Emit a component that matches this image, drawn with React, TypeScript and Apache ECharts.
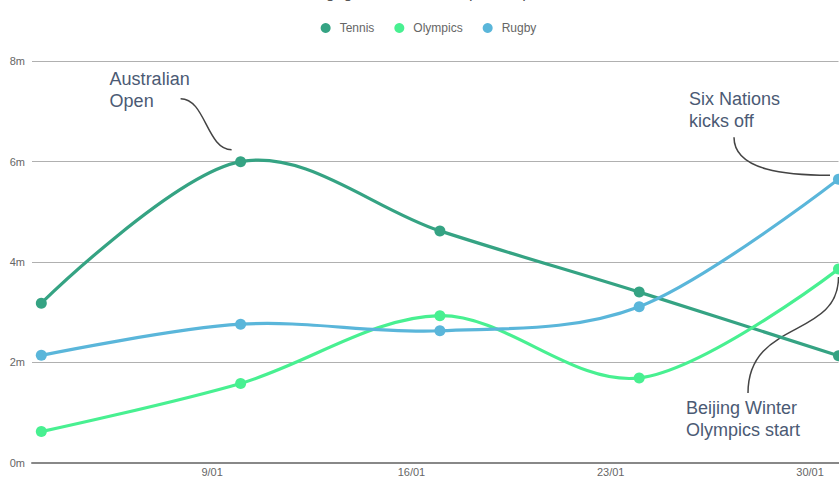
import React, { useEffect, useRef } from "react";
import * as echarts from "echarts";

const titleText = "Engagement with UK sports topics";
const dayOfJanuary = [3, 10, 17, 24, 31];
const tickDays = [9, 16, 23, 30];
const seriesNames = ["Tennis", "Olympics", "Rugby"];
const tennis = [3.18, 6.0, 4.62, 3.4, 2.13];
const olympics = [0.62, 1.58, 2.93, 1.69, 3.86];
const rugby = [2.14, 2.76, 2.63, 3.11, 5.65];
const yTicks = [0, 2, 4, 6, 8];
const colors = ["#35a383", "#48f091", "#5ab6da"];

const FONT = "Liberation Sans, Arial, Helvetica, sans-serif";
const K = 1 / 6; // cardinal spline, tension 0

// Cardinal spline through pixel points; endpoints use themselves as control points
function splinePath(pts: number[][]): string {
  const n = pts.length;
  let d = `M${pts[0][0]},${pts[0][1]}`;
  for (let i = 0; i < n - 1; i++) {
    const p0 = pts[i];
    const p1 = pts[i + 1];
    const pm = i > 0 ? pts[i - 1] : null;
    const pn = i + 2 < n ? pts[i + 2] : null;
    const c1 = pm ? [p0[0] + K * (p1[0] - pm[0]), p0[1] + K * (p1[1] - pm[1])] : p0;
    const c2 = pn ? [p1[0] - K * (pn[0] - p0[0]), p1[1] - K * (pn[1] - p0[1])] : p1;
    d += ` C${c1[0]},${c1[1]} ${c2[0]},${c2[1]} ${p1[0]},${p1[1]}`;
  }
  return d;
}

export default function App() {
  const ref = useRef<HTMLDivElement>(null);
  useEffect(() => {
    document.body.style.margin = "0";
    if (!ref.current) return;
    const chart = echarts.init(ref.current, undefined, { renderer: "svg" });
    const mk = (arr: number[]) => dayOfJanuary.map((d, i) => [d, arr[i]]);
    const allSeries = [tennis, olympics, rugby];

    const curveSeries = seriesNames.map((name, i) => ({
      name: `${name} curve`,
      type: "custom",
      coordinateSystem: "cartesian2d",
      data: mk(allSeries[i]),
      encode: { x: 0, y: 1 },
      clip: false,
      silent: true,
      z: 2,
      renderItem: (params: any, api: any) => {
        if (params.dataIndex !== 0) return null;
        const pts = mk(allSeries[i]).map((p) => api.coord(p));
        return {
          type: "path",
          shape: { pathData: splinePath(pts) },
          style: { stroke: colors[i], lineWidth: 3.2, fill: "none" },
        };
      },
    }));

    const pointSeries = seriesNames.map((name, i) => ({
      name,
      type: "line",
      data: mk(allSeries[i]),
      smooth: false,
      clip: false,
      z: 3,
      symbol: "circle",
      symbolSize: 11,
      showSymbol: true,
      lineStyle: { width: 0, opacity: 0, color: colors[i] },
      itemStyle: { color: colors[i] },
    }));

    chart.setOption({
      animation: false,
      textStyle: { fontFamily: FONT },
      color: colors,
      title: {
        text: titleText,
        left: "center",
        top: -21,
        textStyle: { fontSize: 16, fontWeight: "normal", color: "#555", fontFamily: FONT },
      },
      legend: {
        data: seriesNames,
        top: 17,
        left: "center",
        icon: "circle",
        itemWidth: 10,
        itemHeight: 10,
        itemGap: 20,
        textStyle: { fontSize: 12, color: "#666", padding: [0, 0, 0, 4], fontFamily: FONT },
      },
      grid: { left: 32, right: 18.5, top: 61.3, bottom: 18.3, containLabel: false },
      xAxis: {
        type: "value",
        min: 2.673,
        max: 31,
        axisLine: { show: true, lineStyle: { color: "#888", width: 2 } },
        axisTick: { show: false },
        splitLine: { show: false },
        axisLabel: {
          customValues: tickDays,
          formatter: (v: number) => `${v}/01`,
          color: "#666",
          fontSize: 11,
          margin: 4,
          fontFamily: FONT,
        },
      },
      yAxis: {
        type: "value",
        min: yTicks[0],
        max: yTicks[yTicks.length - 1],
        interval: 2,
        axisLine: { show: false },
        axisTick: { show: false },
        splitLine: { lineStyle: { color: "#b0b0b0", width: 1 } },
        axisLabel: {
          formatter: (v: number) => `${v}m`,
          color: "#666",
          fontSize: 11,
          margin: 7,
          fontFamily: FONT,
        },
      },
      series: [...curveSeries, ...pointSeries],
    });

    const px = (d: number, v: number) =>
      chart.convertToPixel({ gridIndex: 0 }, [d, v]) as number[];
    const a = px(dayOfJanuary[1], tennis[1]);
    const s = px(dayOfJanuary[4], rugby[4]);
    const b = px(dayOfJanuary[4], olympics[4]);
    const textStyle = {
      fontSize: 18,
      lineHeight: 22,
      fill: "#4b5a74",
      fontFamily: FONT,
      textAlign: "left",
      textVerticalAlign: "top",
    };
    const curve = (x1: number, y1: number, c1x: number, c1y: number, c2x: number, c2y: number, x2: number, y2: number) => ({
      type: "bezierCurve",
      shape: { x1, y1, cpx1: c1x, cpy1: c1y, cpx2: c2x, cpy2: c2y, x2, y2 },
      style: { stroke: "#444", lineWidth: 1.5, fill: null },
      silent: true,
    });
    chart.setOption({
      graphic: [
        { type: "text", x: a[0] - 131, y: a[1] - 94, style: { ...textStyle, text: "Australian\nOpen" }, silent: true },
        curve(a[0] - 60, a[1] - 63, a[0] - 35, a[1] - 63, a[0] - 34, a[1] - 12, a[0] - 9, a[1] - 12),
        { type: "text", x: s[0] - 149.5, y: s[1] - 91, style: { ...textStyle, text: "Six Nations\nkicks off" }, silent: true },
        curve(s[0] - 104.5, s[1] - 42, s[0] - 104.5, s[1] - 8, s[0] - 50, s[1] - 4, s[0] - 8.5, s[1] - 4),
        { type: "text", x: b[0] - 152.5, y: b[1] + 128, style: { ...textStyle, text: "Beijing Winter\nOlympics start" }, silent: true },
        curve(b[0] - 90.5, b[1] + 124, b[0] - 90.5, b[1] + 50, b[0], b[1] + 70, b[0], b[1] + 8),
      ],
    });
    return () => chart.dispose();
  }, []);
  return (
    <div style={{ width: 839, height: 481, overflow: "hidden", position: "relative" }}>
      <div ref={ref} style={{ width: 857, height: 481 }} />
    </div>
  );
}
